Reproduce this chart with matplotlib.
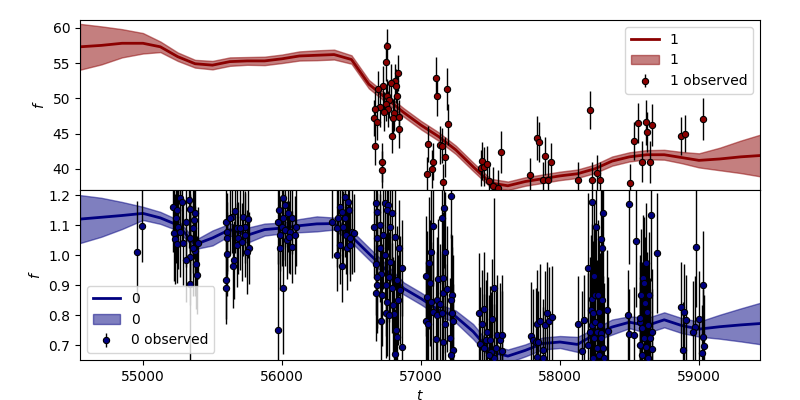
import numpy as np
from matplotlib import pyplot as plt

# prediction grid (shared by both series)
t_pred = [54547, 54700, 54850, 55000, 55125, 55250, 55375, 55500, 55625, 55750,
          55875, 56000, 56125, 56250, 56375, 56500, 56625, 56750, 56875, 57000,
          57125, 57250, 57375, 57500, 57625, 57750, 57875, 58000, 58125, 58250,
          58375, 58500, 58625, 58750, 58875, 59000, 59150, 59300, 59450]

# series "1" (top panel) model mean and half width
mu1 = [57.3, 57.5, 57.8, 57.8, 57.3, 55.9, 54.9, 54.7, 55.2, 55.3,
       55.3, 55.6, 56.0, 56.1, 56.2, 55.5, 52.0, 50.0, 48.0, 46.2,
       44.6, 42.7, 40.3, 38.0, 37.6, 38.2, 38.6, 39.0, 39.3, 40.0,
       41.1, 41.7, 42.0, 42.0, 41.6, 41.2, 41.4, 41.7, 41.9]
sd1 = [3.25, 2.7, 2.0, 1.45, 0.75, 0.6, 0.55, 0.6, 0.6, 0.55,
       0.6, 0.6, 0.65, 0.7, 0.7, 0.6, 0.6, 0.6, 0.6, 0.6,
       0.6, 0.6, 0.6, 0.6, 0.6, 0.6, 0.6, 0.6, 0.6, 0.6,
       0.65, 0.65, 0.65, 0.7, 0.8, 1.0, 1.6, 2.3, 3.0]

# series "0" (bottom panel) model mean and half width
mu0 = [1.120, 1.126, 1.132, 1.139, 1.124, 1.100, 1.035, 1.057, 1.085, 1.066,
       1.085, 1.090, 1.098, 1.104, 1.105, 1.062, 1.005, 0.950, 0.889, 0.855,
       0.817, 0.795, 0.745, 0.678, 0.663, 0.682, 0.705, 0.710, 0.702, 0.735,
       0.760, 0.776, 0.765, 0.784, 0.765, 0.753, 0.761, 0.767, 0.772]
sd0 = [0.080, 0.065, 0.045, 0.022, 0.020, 0.018, 0.015, 0.025, 0.020, 0.025,
       0.020, 0.018, 0.022, 0.025, 0.020, 0.020, 0.020, 0.020, 0.020, 0.020,
       0.020, 0.020, 0.025, 0.022, 0.022, 0.020, 0.020, 0.020, 0.025, 0.020,
       0.025, 0.020, 0.025, 0.025, 0.025, 0.025, 0.040, 0.055, 0.070]

# observed points, series "1"
t1 = [56758, 56746, 56837, 56813, 56784, 56818, 56729, 56693, 56753, 56829,
      56772, 56748, 56705, 56669, 56760, 56732, 56808, 56662, 56801, 56844,
      56686, 56840, 56789, 56672, 56717, 56722,
      57106, 57113, 57189, 57196, 57053, 57137, 57149, 57173, 57088, 57077,
      57045, 57160,
      57441, 57429, 57453, 57473, 57489, 57520, 57556, 57578,
      57837, 57847, 57894, 57935, 57786, 57876, 57912, 58129,
      58218, 58563, 58619, 58628, 58664, 58535, 58590, 58650, 58506, 58232,
      58264, 58290, 58871, 58902, 59031]
f1 = [57.4, 55.2, 53.6, 52.4, 52.2, 51.7, 51.7, 51.3, 50.3, 50.3,
      49.8, 49.2, 48.7, 48.5, 48.5, 48.1, 47.9, 47.2, 47.2, 47.3,
      46.6, 45.6, 44.7, 43.3, 40.9, 39.9,
      52.9, 50.3, 51.3, 46.3, 43.5, 43.4, 43.3, 41.7, 41.0, 40.0,
      39.2, 38.1,
      41.1, 40.1, 40.3, 40.7, 38.3, 37.5, 37.3, 42.4,
      44.4, 43.8, 41.8, 41.0, 39.1, 38.4, 38.4, 38.4,
      48.4, 46.5, 46.6, 45.2, 46.2, 44.0, 41.0, 41.0, 38.0, 38.4,
      39.4, 38.4, 44.7, 45.0, 47.1]
e1 = [2.4, 2.8, 2.6, 2.5, 2.7, 2.4, 2.9, 2.6, 2.5, 2.8,
      2.6, 2.4, 2.7, 2.5, 2.6, 2.8, 2.5, 2.6, 2.7, 2.4,
      2.5, 2.6, 2.5, 2.8, 2.7, 2.6,
      3.0, 2.8, 3.0, 2.9, 2.6, 2.7, 2.5, 2.8, 2.6, 2.7,
      2.5, 2.6,
      2.7, 2.5, 2.8, 2.6, 2.5, 2.7, 2.6, 3.0,
      3.1, 2.9, 2.7, 2.6, 2.5, 2.6, 2.8, 2.6,
      2.7, 2.9, 3.2, 2.8, 3.0, 2.7, 2.9, 3.0, 2.7, 2.6,
      2.5, 2.6, 2.7, 2.6, 3.0]

# observed points, series "0"
t0 = [54959, 54995,
      55218, 55242, 55266, 55278, 55235, 55254, 55225, 55230, 55247, 55309,
      55338, 55333, 55374, 55369, 55362, 55336, 55394, 55376, 55340, 55312,
      55378, 55386, 55335, 55290, 55268, 55358,
      55595, 55602, 55604, 55606, 55597, 55599, 55645, 55655, 55638, 55662,
      55674, 55686, 55676, 55722, 55734, 55736, 55758, 55765, 55746, 55710,
      55626, 55698,
      55973, 56005, 55981, 56009, 56022, 56045, 56070, 55975, 55998, 56024,
      56058, 56094, 55983, 55985, 56034, 56072, 56101, 56011, 56047,
      56358, 56394, 56405, 56417, 56429, 56453, 56477, 56479, 56441, 56460,
      56489, 56501, 56518, 56398, 56431, 56419, 56465, 56491, 56455,
      56676, 56681, 56741, 56765, 56753, 56789, 56662, 56705, 56729, 56777,
      56813, 56683, 56707, 56844, 56678, 56743, 56779, 56861, 56709, 56767,
      56825, 56685, 56745, 56791, 56849, 56680, 56717, 56837, 56755, 56801,
      56712, 56748, 56803, 56820, 56827, 56815, 56863, 56769, 56687,
      57216, 57168, 57153, 57084, 57070, 57170, 57060, 57036, 57062, 57124,
      57160, 57155, 57185, 57225, 57045, 57072, 57113, 57137, 57218, 57088,
      57115, 57149, 57220, 57038, 57052, 57173, 57227, 57108, 57162, 57209,
      57229, 57214,
      57527, 57419, 57455, 57513, 57437, 57477, 57424, 57468, 57496, 57549,
      57568, 57581, 57453, 57501, 57540, 57583, 57525, 57489,
      57789, 57808, 57827, 57844, 57837, 57856, 57876, 57892, 57909, 57923,
      57941, 57832, 57880,
      58131, 58173, 58156, 58203, 58232, 58247, 58259, 58295, 58300, 58307,
      58230, 58249, 58275, 58302, 58221, 58240, 58283, 58336, 58228, 58252,
      58285, 58216, 58264, 58293, 58348, 58245, 58295, 58205, 58268, 58312,
      58234, 58281, 58319,
      58498, 58544, 58491, 58500, 58532, 58575, 58583, 58595, 58606, 58619,
      58655, 58700, 58577, 58612, 58624, 58643, 58588, 58635, 58659, 58601,
      58645, 58579, 58621, 58661, 58590, 58630,
      58871, 58894, 58904, 58887, 58978, 59026, 58971, 59002, 58959, 59031,
      59036, 59020]
f0 = [1.009, 1.097,
      1.159, 1.150, 1.189, 1.178, 1.122, 1.094, 1.072, 1.052, 1.036, 1.111,
      1.153, 1.183, 1.139, 1.117, 1.089, 1.056, 1.041, 1.013, 0.994, 0.983,
      0.969, 0.933, 0.903, 1.039, 1.078, 1.022,
      1.109, 1.078, 1.056, 1.002, 0.917, 0.889, 0.963, 0.983, 1.128, 1.147,
      1.089, 1.056, 1.033, 1.128, 1.094, 1.067, 1.119, 1.022, 1.011, 1.044,
      1.122, 1.089,
      0.749, 0.889, 1.150, 1.189, 1.167, 1.139, 1.122, 1.111, 1.094, 1.083,
      1.078, 1.067, 1.067, 1.022, 1.050, 1.028, 1.094, 1.122, 1.061,
      1.111, 1.089, 1.122, 1.161, 1.144, 1.194, 1.178, 1.150, 1.094, 1.067,
      1.056, 1.078, 1.074, 1.000, 0.963, 1.033, 1.022, 1.033, 1.122,
      1.172, 1.144, 1.172, 1.167, 1.150, 1.139, 1.094, 1.100, 1.067, 1.094,
      1.061, 1.056, 1.022, 1.022, 0.969, 1.000, 0.978, 0.958, 0.936, 0.928,
      0.917, 0.900, 0.900, 0.889, 0.883, 0.872, 0.867, 0.850, 0.844, 0.833,
      0.780, 0.806, 0.802, 0.750, 0.728, 0.669, 0.692, 0.800, 0.928,
      1.197, 1.156, 1.122, 1.098, 1.009, 1.009, 0.972, 0.930, 0.906, 0.919,
      0.924, 0.872, 0.886, 0.867, 0.859, 0.844, 0.850, 0.837, 0.850, 0.811,
      0.800, 0.806, 0.808, 0.780, 0.769, 0.769, 0.780, 0.719, 0.711, 0.724,
      0.683, 0.667,
      0.889, 0.806, 0.819, 0.786, 0.769, 0.744, 0.702, 0.717, 0.717, 0.733,
      0.717, 0.733, 0.689, 0.678, 0.689, 0.681, 0.658, 0.667,
      0.730, 0.717, 0.709, 0.711, 0.769, 0.780, 0.683, 0.767, 0.808, 0.780,
      0.794, 0.661, 0.656,
      0.769, 0.782, 0.680, 0.956, 1.176, 0.930, 1.092, 1.052, 1.022, 1.139,
      0.852, 0.867, 0.867, 0.850, 0.817, 0.806, 0.811, 0.817, 0.767, 0.778,
      0.767, 0.744, 0.744, 0.741, 0.747, 0.722, 0.722, 0.700, 0.691, 0.689,
      0.658, 0.667, 0.656,
      1.169, 1.047, 0.800, 0.736, 0.733, 0.778, 0.867, 0.922, 0.906, 0.972,
      1.133, 1.006, 0.789, 0.839, 0.811, 0.867, 0.756, 0.767, 0.744, 0.722,
      0.722, 0.700, 0.694, 0.686, 0.667, 0.658,
      0.828, 0.811, 0.783, 0.683, 1.026, 0.900, 0.761, 0.786, 0.744, 0.726,
      0.697, 0.672]
e0 = [0.17, 0.12,
      0.15, 0.14, 0.16, 0.13, 0.15, 0.14, 0.16, 0.15, 0.13, 0.15,
      0.14, 0.16, 0.15, 0.13, 0.15, 0.14, 0.12, 0.15, 0.16, 0.14,
      0.15, 0.13, 0.30, 0.14, 0.15, 0.16,
      0.12, 0.13, 0.12, 0.14, 0.13, 0.12, 0.14, 0.13, 0.12, 0.14,
      0.13, 0.12, 0.14, 0.13, 0.12, 0.14, 0.13, 0.12, 0.14, 0.13,
      0.12, 0.14,
      0.28, 0.22, 0.13, 0.12, 0.14, 0.13, 0.12, 0.14, 0.13, 0.12,
      0.14, 0.13, 0.12, 0.14, 0.13, 0.12, 0.13, 0.14, 0.12,
      0.12, 0.13, 0.12, 0.14, 0.13, 0.12, 0.13, 0.14, 0.12, 0.13,
      0.12, 0.14, 0.13, 0.12, 0.12, 0.13, 0.14, 0.12, 0.13,
      0.16, 0.18, 0.17, 0.15, 0.18, 0.16, 0.17, 0.15, 0.18, 0.16,
      0.17, 0.15, 0.18, 0.16, 0.17, 0.15, 0.18, 0.16, 0.17, 0.15,
      0.18, 0.16, 0.17, 0.15, 0.18, 0.16, 0.17, 0.15, 0.18, 0.16,
      0.17, 0.15, 0.18, 0.16, 0.17, 0.15, 0.18, 0.16, 0.17,
      0.14, 0.20, 0.22, 0.20, 0.21, 0.20, 0.22, 0.20, 0.21, 0.20,
      0.22, 0.20, 0.21, 0.20, 0.22, 0.20, 0.21, 0.20, 0.22, 0.20,
      0.21, 0.20, 0.22, 0.20, 0.21, 0.20, 0.22, 0.20, 0.21, 0.20,
      0.22, 0.20,
      0.30, 0.20, 0.19, 0.20, 0.18, 0.20, 0.19, 0.20, 0.18, 0.20,
      0.19, 0.20, 0.18, 0.20, 0.19, 0.20, 0.18, 0.20,
      0.18, 0.17, 0.18, 0.17, 0.18, 0.19, 0.17, 0.18, 0.17, 0.18,
      0.17, 0.18, 0.17,
      0.16, 0.15, 0.20, 0.25, 0.22, 0.25, 0.24, 0.25, 0.24, 0.23,
      0.25, 0.24, 0.25, 0.24, 0.25, 0.24, 0.25, 0.20, 0.24, 0.25,
      0.24, 0.25, 0.24, 0.25, 0.18, 0.24, 0.25, 0.24, 0.25, 0.24,
      0.25, 0.24, 0.25,
      0.20, 0.22, 0.15, 0.15, 0.16, 0.20, 0.22, 0.21, 0.22, 0.20,
      0.22, 0.20, 0.21, 0.22, 0.20, 0.21, 0.22, 0.20, 0.21, 0.22,
      0.20, 0.21, 0.22, 0.20, 0.21, 0.22,
      0.15, 0.16, 0.15, 0.16, 0.20, 0.18, 0.17, 0.16, 0.17, 0.16,
      0.17, 0.16]


def panel(ax, mu, sd, t, f, e, color, name):
    mu = np.array(mu)
    sd = np.array(sd)
    ax.plot(t_pred, mu, color=color, lw=2, label=name)
    ax.fill_between(t_pred, mu - sd, mu + sd, color=color, alpha=0.5, label=name)
    ax.errorbar(t, f, yerr=e, fmt='o', color=color, mec='k', mew=0.8, ms=4.5,
                ecolor='k', elinewidth=1, label=name + ' observed', zorder=3)
    ax.set_ylabel("$f$")


fig, (ax1, ax0) = plt.subplots(2, 1, sharex=True, figsize=(8, 4))
fig.subplots_adjust(left=0.1, right=0.95, top=0.95, bottom=0.1, hspace=0)

panel(ax1, mu1, sd1, t1, f1, e1, 'darkred', '1')
ax1.set_ylim(37.0, 61.1)
ax1.set_yticks([40, 45, 50, 55, 60])
ax1.legend(loc='upper right')

panel(ax0, mu0, sd0, t0, f0, e0, 'navy', '0')
ax0.set_ylim(0.65, 1.217)
ax0.set_yticks([0.7, 0.8, 0.9, 1.0, 1.1, 1.2])
ax0.legend(loc='lower left')

ax0.set_xlim(54547, 59439)
ax0.set_xticks([55000, 56000, 57000, 58000, 59000])
ax0.set_xlabel("$t$")

fig.savefig("out.png", dpi=100)
